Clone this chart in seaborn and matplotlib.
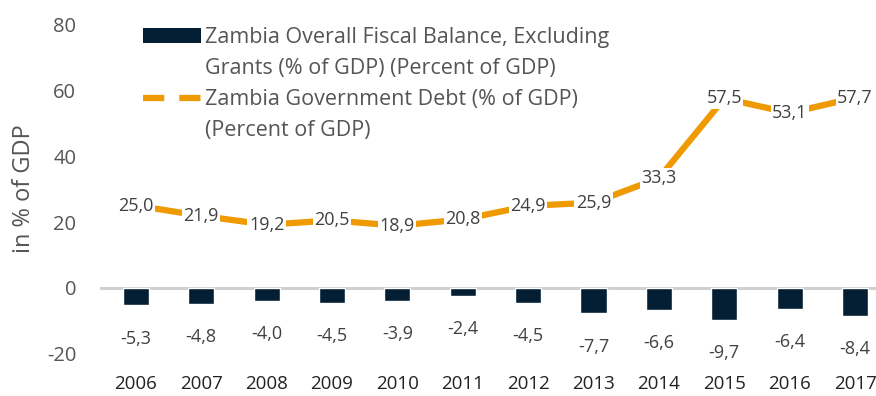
import numpy as np
import pandas as pd
import seaborn as sns
import matplotlib.pyplot as plt
from matplotlib.lines import Line2D
from matplotlib.patches import Patch

years = ['2006', '2007', '2008', '2009', '2010', '2011', '2012', '2013', '2014', '2015', '2016', '2017']
balance = [-5.3, -4.8, -4.0, -4.5, -3.9, -2.4, -4.5, -7.7, -6.6, -9.7, -6.4, -8.4]
debt = [25.0, 21.9, 19.2, 20.5, 18.9, 20.8, 24.9, 25.9, 33.3, 57.5, 53.1, 57.7]
yticks = [-20, 0, 20, 40, 60, 80]

navy = '#041e33'
orange = '#ee9a00'

sns.set_style('white')
plt.rcParams['font.family'] = ['Open Sans', 'DejaVu Sans']

df = pd.DataFrame({'year': years, 'balance': balance, 'debt': debt})

fig = plt.figure(figsize=(8.76, 3.96), dpi=100)
ax = fig.add_axes([0.114, 0.073, 0.886, 0.899])

ax.axhline(0, color='#d0d0d0', lw=2.2, zorder=1)
sns.barplot(data=df, x='year', y='balance', color=navy, width=0.4,
            saturation=1, ax=ax, zorder=2)
sns.pointplot(data=df, x='year', y='debt', color=orange, markers='',
              linewidth=4.5, ax=ax, zorder=3)

# labels
for i, v in enumerate(balance):
    ax.annotate(('%.1f' % v).replace('.', ','), (i, v), xytext=(0, -24),
                textcoords='offset points', ha='center', va='center',
                fontsize=13, color='#404040')
for i, v in enumerate(debt):
    ax.text(i, v, ('%.1f' % v).replace('.', ','), ha='center', va='center',
            fontsize=13, color='#404040', zorder=4,
            bbox=dict(facecolor='white', edgecolor='none', pad=1))

ax.set_xlim(-0.55, 11.32)
ax.set_ylim(-24, 84)
ax.set_yticks(yticks)
ax.set_yticklabels([str(t) for t in yticks], color='#555555', fontsize=14.5)
ax.tick_params(axis='x', labelsize=13.5, labelcolor='#222222', length=0, pad=6)
ax.tick_params(axis='y', length=0, pad=17)
ax.set_xlabel('')
ax.set_ylabel('in % of GDP', fontsize=17, color='#555555', labelpad=8)
sns.despine(ax=ax, left=True, bottom=True)

handles = [Patch(facecolor=navy, edgecolor='none'),
           Line2D([], [], color='none'),
           Line2D([], [], color=orange, lw=4.5, dashes=(3.4, 2.4)),
           Line2D([], [], color='none')]
labels = ['Zambia Overall Fiscal Balance, Excluding',
          'Grants (% of GDP) (Percent of GDP)',
          'Zambia Government Debt (% of GDP)',
          '(Percent of GDP)']
ax.legend(handles, labels, loc='upper left', bbox_to_anchor=(0.163, 0.932),
          bbox_transform=fig.transFigure, frameon=False, fontsize=15.5,
          labelcolor='#555555', handlelength=2.7, handleheight=0.65,
          handletextpad=0.2, labelspacing=0.47, borderaxespad=0,
          borderpad=0)

fig.savefig('out.png', dpi=100)
